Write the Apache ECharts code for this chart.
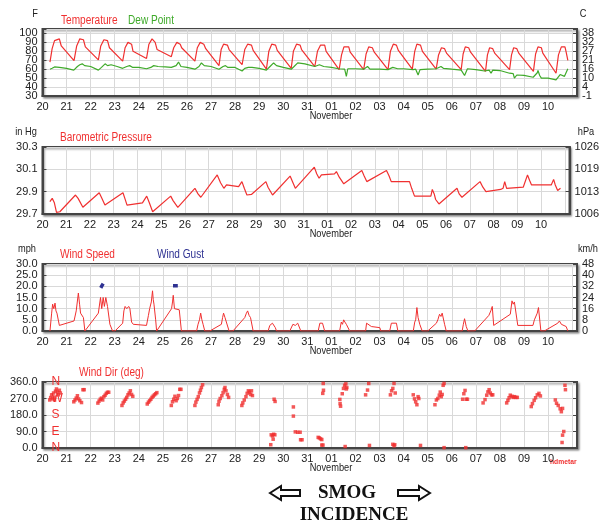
<!DOCTYPE html>
<html>
<head>
<meta charset="utf-8">
<script src="https://cdn.jsdelivr.net/npm/echarts/dist/echarts.min.js"></script>
<style>
    html, body { margin: 0; padding: 0; background: #fff; }
    #main { width: 602px; height: 525px; }
</style>
</head>
<body>
<div id="main"></div>
<script type="text/javascript">
    // x values are days since Oct 20, 00:00
    var dayLabels = ['20','21','22','23','24','25','26','27','28','29','30','31',
                     '01','02','03','04','05','06','07','08','09','10'];

    var tempFLabels = ['30','40','50','60','70','80','90','100'];
    var tempCLabels = ['-1','4','10','16','21','27','32','38'];
    var pressInLabels = ['29.7','29.9','30.1','30.3'];
    var pressHpaLabels = ['1006','1013','1019','1026'];
    var speedMphLabels = ['0.0','5.0','10.0','15.0','20.0','25.0','30.0'];
    var speedKmhLabels = ['0','8','16','24','32','40','48'];
    var dirLabels = ['0.0','90.0','180.0','270.0','360.0'];
    var compassLabels = ['N','E','S','W','N'];

    var temperature = [
        [0.31,68],[0.4,83],[0.5,92],[0.55,94],[0.7,94],[0.78,86],[1.31,69.5],
        [1.42,86],[1.55,94],[1.62,95],[1.7,93],[1.78,85],[2.32,70.5],
        [2.42,86],[2.55,93],[2.62,94.5],[2.7,92],[2.78,84],[3.33,69],
        [3.43,84],[3.55,90],[3.62,91],[3.7,88],[3.76,80],[4.32,72],
        [4.42,88],[4.55,94],[4.62,94.5],[4.68,90],[4.76,82],[5.35,74],
        [5.45,84],[5.58,90],[5.65,91],[5.72,88],[5.78,84],[6.33,69],
        [6.43,84],[6.55,90],[6.62,91],[6.7,88],[6.78,83],[7.33,64],
        [7.42,82],[7.52,88],[7.6,89.5],[7.68,87],[7.75,82],[8.29,65],
        [8.4,82],[8.52,88],[8.6,89.5],[8.68,87],[8.75,81],[9.3,60],
        [9.4,80],[9.52,88],[9.6,89.5],[9.68,87],[9.75,81],[10.33,61],
        [10.42,80],[10.55,88],[10.62,89.5],[10.7,87],[10.76,82],[11.31,63],
        [11.42,80],[11.55,87],[11.62,88],[11.72,87],[11.78,80],[12.32,59.5],
        [12.42,76],[12.52,85],[12.58,86],[12.72,85],[12.78,79],[13.34,59.5],
        [13.44,77],[13.55,85],[13.6,86],[13.7,84],[13.78,79],[14.35,59.5],
        [14.45,80],[14.57,88],[14.63,89.5],[14.7,87],[14.78,81],[15.36,60],
        [15.46,80],[15.55,88],[15.62,89.5],[15.7,87],[15.78,80],[16.35,60],
        [16.45,76],[16.57,84],[16.63,85],[16.7,83],[16.78,78],[17.39,59.5],
        [17.47,77],[17.56,85],[17.62,86],[17.7,84],[17.78,79],[18.4,57.5],
        [18.48,76],[18.57,84],[18.62,85],[18.7,83],[18.78,78],[19.4,59.5],
        [19.48,76],[19.57,84],[19.63,85],[19.7,83],[19.78,78],[20.39,57.5],
        [20.48,77],[20.58,85],[20.64,86],[20.72,84],[20.78,78],[21.33,55.5],
        [21.43,76],[21.55,85],[21.62,86],[21.7,85],[21.75,79],[21.82,70]
    ];

    var dewPoint = [
        [0.31,60],[0.4,61],[0.5,62.5],[0.7,62],[1.0,61],[1.3,59],[1.45,63],[1.55,65],[1.65,66],
        [1.75,64],[2.0,63],[2.32,59],[2.45,62],[2.6,66],[2.7,64],[2.85,65],[3.1,63],[3.33,61],
        [3.5,63],[3.62,64],[3.75,62],[4.0,62],[4.32,60.5],[4.5,62],[4.62,64],[4.8,63],[5.1,62.5],
        [5.35,62],[5.55,64],[5.65,68],[5.75,63],[6.0,62],[6.33,60],[6.5,63],[6.6,67],[6.72,64],
        [7.0,63],[7.33,60],[7.5,63],[7.6,64],[7.7,62],[8.0,62],[8.29,58],[8.4,61],[8.55,62],
        [8.7,62],[9.0,61],[9.3,59],[9.45,63],[9.6,67],[9.72,64],[10.0,62],[10.33,60],[10.45,63],
        [10.6,67],[10.68,68],[10.9,66],[11.31,63],[11.5,65],[11.58,67],[11.68,63],[12.0,62],
        [12.3,60.5],[12.55,60],[12.62,52],[12.68,60.5],[13.0,60.5],[13.34,60],[13.5,63],[13.6,60],
        [14.0,60],[14.35,59.5],[14.55,62],[14.63,63],[14.75,60.5],[15.0,60.5],[15.39,59.5],
        [15.5,60],[15.6,53.5],[15.68,59.5],[16.0,60],[16.35,60.5],[16.55,63],[16.65,61],[17.0,60],
        [17.39,59],[17.53,53],[17.65,60.5],[18.0,59.5],[18.36,58],[18.55,59],[18.63,55.5],
        [18.7,59],[19.0,58.5],[19.4,55.5],[19.55,55],[19.6,50],[19.7,53.5],[20.0,53],[20.38,51],
        [20.55,56],[20.58,58.5],[20.65,53],[20.72,50],[21.0,50],[21.33,48],[21.5,54],[21.58,55.5],
        [21.68,52],[21.82,60.5]
    ];

    var pressure = [
        [0.31,29.81],[0.41,29.84],[0.5,29.8],[0.59,29.715],[0.73,29.72],[1.39,29.87],[1.5,29.84],
        [1.7,29.76],[2.39,29.89],[2.5,29.84],[2.63,29.78],[3.39,29.89],[3.5,29.82],[3.56,29.78],
        [4.21,29.8],[4.39,29.86],[4.5,29.8],[4.64,29.72],[5.4,29.86],[5.5,29.82],[5.7,29.76],
        [6.42,29.93],[6.55,29.88],[6.67,29.85],[7.36,30.05],[7.5,29.98],[7.64,29.93],[7.75,29.96],
        [8.26,29.945],[8.4,29.99],[8.5,29.93],[8.61,29.87],[8.8,29.875],[9.41,29.99],[9.5,29.94],
        [9.69,29.87],[10.43,30.04],[10.55,29.98],[10.65,29.93],[11.45,30.12],[11.55,30.06],
        [11.65,30.02],[11.75,30.05],[12.3,30.06],[12.38,30.08],[12.5,30.03],[12.69,29.97],
        [13.45,30.09],[13.55,30.04],[13.66,29.99],[14.49,30.09],[14.6,30.04],[14.69,29.99],
        [15.46,29.99],[15.55,29.93],[15.67,29.86],[16.36,29.86],[16.42,29.92],[16.5,29.88],
        [16.56,29.83],[16.7,29.79],[17.46,29.93],[17.55,29.88],[17.67,29.85],[18.43,29.99],
        [18.55,29.94],[18.68,29.9],[19.3,29.92],[19.4,29.93],[19.47,29.99],[19.55,29.93],
        [19.6,29.93],[20.25,29.94],[20.43,30.05],[20.52,30.0],[20.6,29.96],[21.43,29.96],
        [21.53,30.01],[21.6,29.96],[21.7,29.91],[21.82,29.93]
    ];

    var windSpeed = [
        [0.31,0],[0.38,8],[0.42,12],[0.47,10],[0.52,12.5],[0.56,9],[0.6,8],[0.7,2.5],[1.31,4.5],
        [1.4,9],[1.49,17],[1.54,12],[1.58,8],[1.7,6],[1.76,0],[1.82,0],[2.32,8],[2.41,15],[2.46,10],
        [2.52,15],[2.57,11],[2.63,15],[2.7,11],[2.8,3],[2.91,0],[3.01,0],[3.33,3.5],[3.38,9],
        [3.43,11],[3.5,10],[3.58,11],[3.63,10],[3.7,4],[3.77,3],[4.32,2.5],[4.4,7],[4.45,10],
        [4.52,13],[4.57,18],[4.6,14],[4.63,12],[4.7,5],[4.74,0],[5.36,10],[5.4,13],[5.43,16],
        [5.48,10],[5.68,9.5],[5.77,0],[6.4,0],[6.46,3],[6.52,5],[6.57,8],[6.62,5],[6.67,3],
        [6.74,0],[6.95,0],[7.43,3],[7.48,6],[7.52,8],[7.58,6],[7.64,6],[7.75,0],[7.91,0],[8.4,6],
        [8.47,8],[8.52,9],[8.58,7],[8.64,6],[8.75,0],[9.37,0],[9.44,2.5],[9.5,2],[9.55,3.5],
        [9.62,4],[9.67,1.5],[9.72,0],[10.27,0],[10.4,3],[10.5,2.5],[10.6,3.5],[10.68,3.5],
        [10.73,0],[11.45,0],[11.52,3.5],[11.63,3.5],[11.72,0],[12.34,0],[12.41,4],[12.46,3],
        [12.51,5],[12.56,4],[12.62,3],[12.76,0],[13.42,0],[13.46,3.5],[13.52,3.5],[13.66,2],
        [14.01,1.5],[14.05,0],[14.42,0],[14.49,3.5],[14.7,3.5],[14.76,0],[15.4,0],[15.46,4],
        [15.5,5],[15.55,10.5],[15.6,6],[15.67,3],[15.77,0],[16.0,0],[16.36,3.5],[16.42,5],
        [16.49,7.5],[16.55,6.5],[16.6,8],[16.7,3],[16.77,0],[17.43,0],[17.48,3],[17.53,5.5],
        [17.6,2],[17.67,0],[17.95,0],[18.54,7],[18.62,9],[18.68,11],[18.74,2.5],[19.43,7.5],
        [19.5,13.5],[19.55,12],[19.6,13],[19.74,2.5],[20.37,2.5],[20.43,5],[20.55,8],[20.6,10.5],
        [20.7,0],[20.84,0],[21.4,3.5],[21.47,4.5],[21.55,3],[21.61,3],[21.75,2],[21.82,0]
    ];

    var windGust = [[2.42,19.3],[2.47,20.3],[2.52,21.2],[4,'-'],[5.42,20.3],[5.62,20.3]];

    var windDir = [
        [0.3,262],[0.34,275],[0.38,290],[0.42,268],[0.46,300],[0.5,278],[0.54,310],[0.58,322],
        [0.62,305],[0.66,290],[0.7,315],[0.74,300],[0.5,262],
        [1.3,252],[1.35,262],[1.4,272],[1.45,285],[1.5,268],[1.55,258],[1.62,248],[1.68,318],[1.73,318],
        [2.3,245],[2.35,256],[2.4,266],[2.45,272],[2.5,262],[2.55,280],[2.6,288],[2.65,298],[2.7,304],[2.75,304],
        [3.3,232],[3.35,246],[3.4,256],[3.45,266],[3.5,276],[3.55,290],[3.6,300],[3.65,312],[3.7,292],[3.75,282],
        [4.35,240],[4.4,250],[4.45,258],[4.5,266],[4.55,276],[4.6,283],[4.65,290],[4.7,296],[4.75,302],
        [5.35,232],[5.4,252],[5.45,266],[5.5,282],[5.55,258],[5.6,270],[5.65,286],[5.7,320],[5.75,320],
        [6.33,232],[6.37,250],[6.42,265],[6.47,280],[6.52,300],[6.56,315],[6.6,330],[6.65,345],
        [7.3,236],[7.33,255],[7.38,270],[7.45,285],[7.5,302],[7.55,320],[7.58,330],[7.62,312],[7.68,292],[7.73,276],
        [8.28,232],[8.32,246],[8.38,262],[8.45,280],[8.5,298],[8.55,312],[8.6,305],[8.65,292],[8.72,286],[8.68,312],
        [9.62,266],[9.66,254],[9.5,72],[9.55,66],[9.6,75],[9.65,72],[9.58,48],[9.48,18],
        [10.42,224],[10.42,174],[10.5,88],[10.6,86],[10.7,86],[10.72,45],[10.78,45],
        [11.45,58],[11.5,55],[11.55,50],[11.6,46],[11.6,16],[11.65,16],[11.66,352],[11.67,315],[11.64,298],
        [12.35,265],[12.36,242],[12.38,228],[12.45,296],[12.5,325],[12.55,342],[12.6,350],[12.64,330],[12.62,322],[12.57,8],
        [13.42,290],[13.5,316],[13.55,352],[13.58,14],
        [14.45,290],[14.5,312],[14.55,325],[14.6,352],[14.65,300],[14.55,20],[14.6,12],[14.63,18],
        [15.4,290],[15.45,268],[15.5,252],[15.55,236],[15.6,280],[15.63,270],[15.7,14],
        [16.3,236],[16.36,262],[16.42,270],[16.48,288],[16.52,305],[16.56,280],[16.6,292],[16.64,342],[16.68,352],[16.68,2],
        [17.45,266],[17.5,296],[17.55,314],[17.6,266],[17.65,266],[17.58,2],
        [18.3,246],[18.38,264],[18.45,288],[18.5,306],[18.55,318],[18.6,300],[18.65,290],[18.7,290],
        [19.28,246],[19.33,260],[19.38,274],[19.43,288],[19.5,282],[19.55,276],[19.6,280],[19.66,276],[19.72,276],
        [20.3,226],[20.35,242],[20.42,260],[20.48,274],[20.55,290],[20.62,298],[20.68,284],
        [21.3,262],[21.35,244],[21.42,232],[21.5,214],[21.55,198],[21.6,216],[21.7,342],[21.72,318],
        [21.65,90],[21.6,70],[21.58,30]
    ];

    var FONT = '"Liberation Sans", Arial, sans-serif';
    var SERIF = '"Liberation Serif", "Times New Roman", serif';
    var RED = '#f03030', GREEN = '#3faa2a', BLUE = '#2e3192', INK = '#222', FRAME = '#444';

    var myChart = echarts.init(document.getElementById('main'));

    function xAxisFor(i) {
        return {
            type: 'value', gridIndex: i, min: 0, max: 22.2, interval: 1,
            axisLine: { lineStyle: { color: FRAME, width: 2 } },
            axisTick: { show: false },
            axisLabel: {
                color: INK, fontFamily: FONT, fontSize: 11, margin: 5, hideOverlap: false,
                formatter: function (v) { return dayLabels[v] || ''; }
            },
            splitLine: { lineStyle: { color: '#d9d9d9' } }
        };
    }

    // part: undefined = all labels, 'rest' = all but the min label, 'min' = only the min label
    // (crowded temperature scale: echarts drops the 2nd label when it touches the min one)
    function yAxisFor(i, pos, min, max, step, labels, part) {
        var overlay = part === 'min';
        return {
            type: 'value', gridIndex: i, position: pos, min: min, max: max, interval: step,
            axisLine: { show: !overlay, lineStyle: { color: FRAME, width: 2 } },
            axisTick: { show: !overlay, inside: true, length: 4, lineStyle: { color: FRAME } },
            axisLabel: {
                show: !!labels, color: INK, fontFamily: FONT, fontSize: 11, margin: 5,
                hideOverlap: false, showMinLabel: true, showMaxLabel: true,
                formatter: function (v) {
                    var k = Math.round((v - min) / step * 1000) / 1000;
                    if (part === 'rest' && k === 0) return '';
                    if (part === 'min' && k !== 0) return '';
                    return (labels && labels[k]) || '';
                }
            },
            splitLine: { show: pos === 'left' && !overlay, lineStyle: { color: '#d9d9d9' } }
        };
    }

    // narrow-looking label text: squeeze horizontally around its anchor
    function txt(x, y, s, color, size, align, font, sx) {
        return {
            type: 'text', x: x, y: y, silent: true, scaleX: sx || 0.84,
            style: {
                text: s, fill: color, textAlign: align || 'left', textVerticalAlign: 'middle',
                font: font || (size + 'px ' + FONT)
            }
        };
    }

    var gridBox = {
        left: 42.5, right: 25, show: true, borderColor: FRAME, borderWidth: 2,
        backgroundColor: '#fff', shadowColor: 'rgba(0,0,0,0.35)', shadowBlur: 2,
        shadowOffsetX: 1.5, shadowOffsetY: 1.5
    };

    option = {
        animation: false,
        backgroundColor: '#fff',
        grid: [
            Object.assign({ top: 29, height: 67 }, gridBox),
            Object.assign({ top: 147, height: 67 }, gridBox),
            Object.assign({ top: 264, height: 67 }, gridBox),
            Object.assign({ top: 382, height: 66 }, gridBox)
        ],
        xAxis: [xAxisFor(0), xAxisFor(1), xAxisFor(2), xAxisFor(3)],
        yAxis: [
            yAxisFor(0, 'left', 30, 105, 10, tempFLabels, 'rest'),
            yAxisFor(0, 'right', 30, 105, 10, tempCLabels, 'rest'),
            yAxisFor(1, 'left', 29.7, 30.3, 0.2, pressInLabels),
            yAxisFor(1, 'right', 29.7, 30.3, 0.2, pressHpaLabels),
            yAxisFor(2, 'left', 0, 30, 5, speedMphLabels),
            yAxisFor(2, 'right', 0, 30, 5, speedKmhLabels),
            yAxisFor(3, 'left', 0, 360, 90, dirLabels),
            yAxisFor(3, 'right', 0, 360, 90, null),
            {
                type: 'value', gridIndex: 3, position: 'left', min: 0, max: 360, interval: 90,
                axisLine: { show: false }, axisTick: { show: false }, splitLine: { show: false },
                axisLabel: {
                    inside: true, margin: 9, color: RED, fontFamily: FONT, fontSize: 12,
                    hideOverlap: false, showMinLabel: true, showMaxLabel: true,
                    formatter: function (v) { return compassLabels[v / 90] || ''; }
                }
            },
            yAxisFor(0, 'left', 30, 105, 10, tempFLabels, 'min'),
            yAxisFor(0, 'right', 30, 105, 10, tempCLabels, 'min')
        ],
        series: [
            { name: 'Temperature', type: 'line', xAxisIndex: 0, yAxisIndex: 0, data: temperature,
              showSymbol: false, lineStyle: { color: RED, width: 1.2 }, itemStyle: { color: RED } },
            { name: 'Dew Point', type: 'line', xAxisIndex: 0, yAxisIndex: 0, data: dewPoint,
              showSymbol: false, lineStyle: { color: GREEN, width: 1.2 }, itemStyle: { color: GREEN } },
            { name: 'Barometric Pressure', type: 'line', xAxisIndex: 1, yAxisIndex: 2, data: pressure,
              showSymbol: false, lineStyle: { color: RED, width: 1.2 }, itemStyle: { color: RED } },
            { name: 'Wind Speed', type: 'line', xAxisIndex: 2, yAxisIndex: 4, data: windSpeed,
              showSymbol: false, lineStyle: { color: RED, width: 1 }, itemStyle: { color: RED } },
            { name: 'Wind Gust', type: 'line', xAxisIndex: 2, yAxisIndex: 4, data: windGust,
              showSymbol: false, lineStyle: { color: BLUE, width: 3.5 }, itemStyle: { color: BLUE } },
            { name: 'Wind Dir', type: 'scatter', xAxisIndex: 3, yAxisIndex: 6, data: windDir,
              symbol: 'rect', symbolSize: 3.5, itemStyle: { color: RED } }
        ],
        graphic: [
            txt(35, 14, 'F', INK, 11, 'center'),
            txt(583, 14, 'C', INK, 11, 'center'),
            txt(61, 21, 'Temperature', RED, 12),
            txt(128, 21, 'Dew Point', GREEN, 12),
            txt(331, 116, 'November', INK, 11, 'center'),

            txt(26, 132, 'in Hg', INK, 11, 'center'),
            txt(586, 132, 'hPa', INK, 11, 'center'),
            txt(60, 138, 'Barometric Pressure', RED, 12),
            txt(331, 234, 'November', INK, 11, 'center'),

            txt(27, 249, 'mph', INK, 11, 'center'),
            txt(588, 249, 'km/h', INK, 11, 'center'),
            txt(60, 255, 'Wind Speed', RED, 12),
            txt(157, 255, 'Wind Gust', BLUE, 12),
            txt(331, 351, 'November', INK, 11, 'center'),

            txt(79, 373, 'Wind Dir (deg)', RED, 12),
            txt(331, 468, 'November', INK, 11, 'center'),
            txt(550, 462, 'hdmetar', RED, 8, 'left', 'bold 8px ' + FONT),

            txt(347, 493, 'SMOG', '#111', 19, 'center', 'bold 19px ' + SERIF, 1),
            txt(354, 515, 'INCIDENCE', '#111', 19, 'center', 'bold 19px ' + SERIF, 1),
            {
                type: 'polygon', silent: true,
                shape: { points: [[270,493],[281,486],[281,490],[300,490],[300,496],[281,496],[281,500]] },
                style: { fill: '#fff', stroke: '#111', lineWidth: 2 }
            },
            {
                type: 'polygon', silent: true,
                shape: { points: [[430,493],[419,486],[419,490],[398,490],[398,496],[419,496],[419,500]] },
                style: { fill: '#fff', stroke: '#111', lineWidth: 2 }
            }
        ]
    };

    myChart.setOption(option);
</script>
</body>
</html>
